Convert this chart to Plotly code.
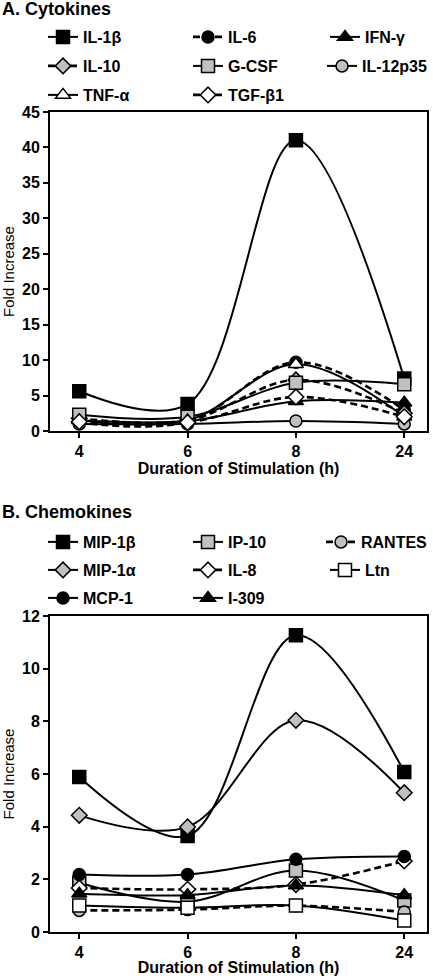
import plotly.graph_objects as go

W, H = 433, 976
x_labels = ["4", "6", "8", "24"]

# Panel A: cytokines
cyt_names = ["IL-1β", "IL-6", "IFN-γ", "IL-10", "G-CSF", "IL-12p35", "TNF-α", "TGF-β1"]
il1b = [5.6, 3.8, 41.0, 7.4]
il6 = [1.2, 1.3, 9.7, 3.0]
ifng = [1.5, 1.4, 4.2, 4.0]
il10 = [1.8, 1.5, 7.2, 2.5]
gcsf = [2.3, 2.0, 6.8, 6.6]
il12p35 = [1.0, 1.0, 1.4, 1.0]
tnfa = [1.5, 1.5, 9.4, 2.0]
tgfb1 = [1.3, 1.2, 4.8, 2.0]
cyt_values = [il1b, il6, ifng, il10, gcsf, il12p35, tnfa, tgfb1]

# Panel B: chemokines
chem_names = ["MIP-1β", "IP-10", "RANTES", "MIP-1α", "IL-8", "Ltn", "MCP-1", "I-309"]
mip1b = [5.89, 3.65, 11.27, 6.08]
ip10 = [1.87, 1.15, 2.34, 1.2]
rantes = [0.82, 0.85, 1.0, 0.76]
mip1a = [4.43, 3.99, 8.04, 5.29]
il8 = [1.67, 1.62, 1.8, 2.7]
ltn = [1.01, 0.92, 1.01, 0.44]
mcp1 = [2.18, 2.18, 2.76, 2.87]
i309 = [1.45, 1.4, 1.77, 1.4]
chem_values = [mip1b, ip10, rantes, mip1a, il8, ltn, mcp1, i309]

BLACK, GRAY, WHITE = "#000000", "#c0c0c0", "#ffffff"
# (symbol, fill, dashed)
cyt_style = [("square", BLACK, False), ("circle", BLACK, True), ("triangle-up", BLACK, False),
             ("diamond", GRAY, True), ("square", GRAY, False), ("circle", GRAY, False),
             ("triangle-up", WHITE, False), ("diamond", WHITE, True)]
chem_style = [("square", BLACK, False), ("square", GRAY, False), ("circle", GRAY, True),
              ("diamond", GRAY, False), ("diamond", WHITE, True), ("square", WHITE, False),
              ("circle", BLACK, False), ("triangle-up", BLACK, False)]

size_of = {"square": 13, "circle": 12, "triangle-up": 13, "diamond": 12}
FONT = "Arial, Liberation Sans, sans-serif"

# legend slot layout (pixels): text columns and row centres
col_text_x = [83, 228, 365]
rows_A = [37, 66, 95]
rows_B = [542, 570, 598]
long_names = {"IL-12p35", "RANTES"}

fig = go.Figure()
legends = {}


def add_panel(names, values, styles, xa, ya, rows, offset):
    for i, (nm, vals, st) in enumerate(zip(names, values, styles)):
        sym, fill, dashed = st
        lid = f"legend{offset + i + 1}" if offset + i > 0 else "legend"
        r, c = divmod(i, 3)
        if nm in long_names:
            xpos, xanc = 1.0, "right"
        else:
            xpos, xanc = (col_text_x[c] - 40) / W, "left"
        legends[lid] = dict(
            orientation="h", xanchor=xanc, yanchor="middle",
            x=xpos, y=1 - rows[r] / H,
            bgcolor="rgba(0,0,0,0)", borderwidth=0,
            font=dict(family=FONT, size=16, color=BLACK, weight="bold"),
            itemclick=False, itemdoubleclick=False)
        fig.add_trace(go.Scatter(
            x=x_labels, y=vals, name=nm, mode="lines+markers",
            line=dict(color=BLACK, width=2.6 if dashed else 2.0, shape="spline", smoothing=1.0,
                      dash="7px,4px" if dashed else "solid"),
            marker=dict(symbol=sym, size=size_of[sym], color=fill,
                        line=dict(color=BLACK, width=1.5)),
            xaxis=xa, yaxis=ya, legend=lid,
        ))


add_panel(cyt_names, cyt_values, cyt_style, "x", "y", rows_A, 0)
add_panel(chem_names, chem_values, chem_style, "x2", "y2", rows_B, 8)

xd = [50 / W, 427 / W]
yA = [(H - 431) / H, (H - 112) / H]
yB = [(H - 932) / H, (H - 616) / H]

ax_common = dict(showline=True, linecolor=BLACK, linewidth=2, mirror=True, ticks="outside",
                 ticklen=5, tickwidth=2, tickcolor=BLACK, showgrid=False, zeroline=False,
                 automargin=False,
                 tickfont=dict(family=FONT, size=16, color=BLACK, weight="bold"))

xcommon = dict(ax_common, type="category", range=[-0.27, 3.21], domain=xd,
               title=dict(text="Duration of Stimulation (h)", standoff=4,
                          font=dict(family=FONT, size=16, color=BLACK, weight="bold")))

ycommon_title = dict(text="Fold Increase", standoff=4,
                     font=dict(family=FONT, size=15, color=BLACK))

fig.update_layout(
    width=W, height=H, margin=dict(l=0, r=0, t=0, b=0, autoexpand=False),
    paper_bgcolor=WHITE, plot_bgcolor=WHITE, showlegend=True,
    xaxis=dict(xcommon, anchor="y"),
    yaxis=dict(ax_common, domain=yA, range=[0, 45], dtick=5, anchor="x", title=ycommon_title),
    xaxis2=dict(xcommon, anchor="y2"),
    yaxis2=dict(ax_common, domain=yB, range=[0, 12], dtick=2, anchor="x2", title=ycommon_title),
    annotations=[
        dict(text="A. Cytokines", x=0, y=1 - 9 / H, xref="paper", yref="paper",
             xanchor="left", yanchor="middle", showarrow=False,
             font=dict(family=FONT, size=18, color=BLACK, weight="bold")),
        dict(text="B. Chemokines", x=0, y=1 - 512 / H, xref="paper", yref="paper",
             xanchor="left", yanchor="middle", showarrow=False,
             font=dict(family=FONT, size=18, color=BLACK, weight="bold")),
    ],
)
fig.update_layout(**legends)

fig.write_html("out.html", config={"displayModeBar": False},
               post_script="document.body.style.margin='0';document.body.style.overflow='hidden';")
